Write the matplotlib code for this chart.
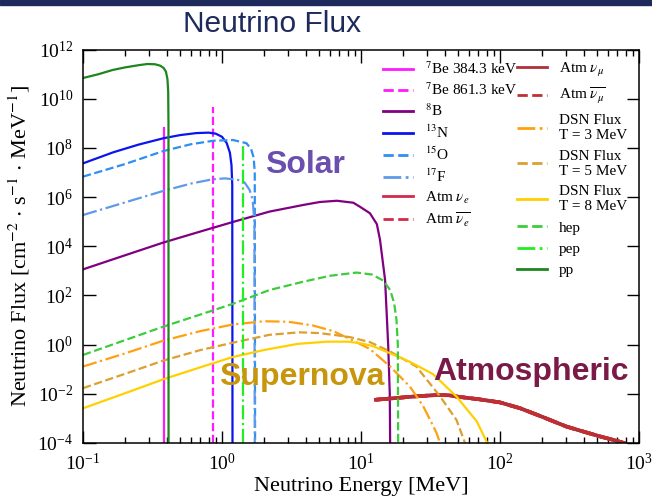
import numpy as np
import matplotlib.pyplot as plt
from matplotlib.patches import Rectangle
from matplotlib.ticker import LogLocator, NullFormatter, FixedLocator, NullLocator

plt.rcParams['font.family'] = ['Liberation Serif', 'DejaVu Serif']
plt.rcParams['mathtext.fontset'] = 'stix'

# energies in MeV, flux given as log10 [cm^-2 s^-1 MeV^-1]
pp_E = [0.1, 0.13, 0.164, 0.2, 0.25, 0.29, 0.33, 0.36, 0.38, 0.395, 0.405, 0.41, 0.412, 0.4125]
pp_log = [10.84, 11.0, 11.17, 11.27, 11.36, 11.41, 11.40, 11.34, 11.25, 11.10, 10.8, 10.3, 9.0, -4]

n13_E = [0.1, 0.165, 0.25, 0.378, 0.5, 0.65, 0.8, 0.9, 1.0, 1.08, 1.14, 1.17, 1.185, 1.19]
n13_log = [7.37, 7.82, 8.13, 8.39, 8.52, 8.60, 8.62, 8.58, 8.45, 8.2, 7.8, 7.3, 6.5, -4]

o15_E = [0.1, 0.2, 0.378, 0.6, 0.866, 1.2, 1.5, 1.62, 1.69, 1.72, 1.73]
o15_log = [6.83, 7.34, 7.87, 8.15, 8.29, 8.32, 8.19, 7.95, 7.6, 7.0, -4]

f17_E = [0.1, 0.2, 0.378, 0.6, 0.85, 1.05, 1.3, 1.45, 1.58, 1.66, 1.71, 1.72]
f17_log = [5.27, 5.78, 6.25, 6.55, 6.72, 6.76, 6.70, 6.6, 6.29, 5.9, 5.0, -4]

b8_E = [0.1, 0.2, 0.378, 0.7, 1.186, 2.2, 3.85, 5.07, 6.7, 8.8, 9.8, 11.6, 13.0, 13.7, 14.9, 15.7, 16.1, 16.2]
b8_log = [3.06, 3.63, 4.15, 4.6, 4.98, 5.41, 5.68, 5.80, 5.85, 5.77, 5.61, 5.34, 4.9, 4.26, 2.63, -0.08, -2, -4]

hep_E = [0.1, 0.378, 1.186, 2.2, 3.85, 6.0, 9.3, 12.0, 14.5, 16.2, 17.3, 18.0, 18.4, 18.5]
hep_log = [-0.42, 0.73, 1.65, 2.22, 2.56, 2.80, 2.93, 2.85, 2.6, 2.22, 1.7, 1.0, 0.0, -4]

dsn3_E = [0.1, 0.2, 0.378, 0.7, 1.2, 2.0, 3.0, 4.5, 6.3, 8.4, 11.6, 16.2, 22.5, 28, 31.4, 35, 37]
dsn3_log = [-0.89, -0.36, 0.16, 0.55, 0.82, 0.95, 0.93, 0.78, 0.55, 0.22, -0.18, -0.89, -1.71, -2.5, -3.06, -3.6, -4.0]

dsn5_E = [0.1, 0.2, 0.378, 0.7, 1.2, 2.2, 3.6, 5.0, 6.7, 8.4, 11.6, 16.2, 25, 37, 48.6, 56]
dsn5_log = [-1.77, -1.19, -0.65, -0.22, 0.08, 0.40, 0.50, 0.47, 0.38, 0.30, 0.10, -0.28, -0.89, -2.1, -3.06, -4.0]

dsn8_E = [0.1, 0.2, 0.378, 0.7, 1.186, 2.0, 3.5, 5.7, 8.0, 9.8, 12, 16.2, 22.5, 33, 48.6, 68, 81]
dsn8_log = [-2.59, -1.98, -1.41, -0.92, -0.51, -0.22, 0.03, 0.12, 0.12, 0.06, -0.05, -0.35, -0.70, -1.2, -2.11, -3.12, -4.0]

atm_E = [12.8, 18, 25, 35, 43, 50, 70, 100, 140, 200, 300, 400, 530, 700, 780]
atm_log = [-2.24, -2.17, -2.10, -2.05, -2.06, -2.12, -2.22, -2.35, -2.59, -2.93, -3.33, -3.54, -3.74, -3.92, -4.0]

# mono-energetic lines: energy, log10 of top end
be7a_E, be7a_top = 0.3843, 8.82
be7b_E, be7b_top = 0.8613, 9.67
pep_E, pep_top = 1.42, 8.19
y_floor = -4

fig = plt.figure(figsize=(6.52, 5.0), dpi=100)
fig.patches.append(Rectangle((0, 0.99), 1, 0.01, transform=fig.transFigure,
                             color='#1f2a5c', zorder=0))
fig.text(0.417, 0.952, 'Neutrino Flux', ha='center', va='center',
         fontsize=21.5, color='#1f2a5c', family='Liberation Sans')

ax = fig.add_axes([0.1273, 0.114, 0.8528, 0.787])

def p(E, lg, **kw):
    return ax.plot(E, np.power(10.0, lg), **kw)[0]

lw = 1.6
h_be7a = p([be7a_E, be7a_E], [y_floor, be7a_top], color='#ff1aff', lw=lw)
h_be7b = p([be7b_E, be7b_E], [y_floor, be7b_top], color='#ff1aff', lw=lw, ls='--')
h_b8 = p(b8_E, b8_log, color='#800080', lw=lw)
h_n13 = p(n13_E, n13_log, color='#0a14f0', lw=lw)
h_o15 = p(o15_E, o15_log, color='#2e8ff0', lw=lw, ls='--')
h_f17 = p(f17_E, f17_log, color='#5f9ae8', lw=lw, ls='-.')
h_atme = p(atm_E, atm_log, color='#d42a4a', lw=2.6)
h_atmeb = p(atm_E, atm_log, color='#d42a4a', lw=2.6, ls='--')
h_atmm = p(atm_E, atm_log, color='#b0303a', lw=2.6)
h_atmmb = p(atm_E, atm_log, color='#c03030', lw=2.6, ls='--')
h_dsn3 = p(dsn3_E, dsn3_log, color='#ffa010', lw=lw, ls='-.')
h_dsn5 = p(dsn5_E, dsn5_log, color='#dba030', lw=lw, ls='--')
h_dsn8 = p(dsn8_E, dsn8_log, color='#ffd000', lw=lw)
h_hep = p(hep_E, hep_log, color='#3ccc3c', lw=lw, ls='--')
h_pep = p([pep_E, pep_E], [y_floor, pep_top], color='#22ee22', lw=lw, ls='-.')
h_pp = p(pp_E, pp_log, color='#1e861e', lw=lw)

ax.set_xscale('log')
ax.set_yscale('log')
ax.set_xlim(0.1, 1000)
ax.set_ylim(1e-4, 1e12)
ax.yaxis.set_major_locator(FixedLocator([10.0 ** k for k in range(-4, 13, 2)]))
ax.yaxis.set_minor_locator(NullLocator())
ax.xaxis.set_minor_locator(LogLocator(base=10, subs=np.arange(2, 10)))
ax.xaxis.set_minor_formatter(NullFormatter())
ax.tick_params(which='both', direction='in', top=True, right=True, labelsize=14, width=1)
ax.tick_params(which='major', length=9, pad=7)
ax.tick_params(which='minor', length=4.5)
for s in ax.spines.values():
    s.set_linewidth(1.1)

ax.set_xlabel('Neutrino Energy [MeV]', fontsize=16, labelpad=2)
ax.set_ylabel('Neutrino Flux [cm$^{-2}$ $\\cdot$ s$^{-1}$ $\\cdot$ MeV$^{-1}$]', fontsize=16, labelpad=4)

left_handles = [h_be7a, h_be7b, h_b8, h_n13, h_o15, h_f17, h_atme, h_atmeb]
left_labels = ['$^{7}$Be 384.3 keV', '$^{7}$Be 861.3 keV', '$^{8}$B', '$^{13}$N',
               '$^{15}$O', '$^{17}$F', 'Atm $\\nu_e$', 'Atm $\\overline{\\nu_e}$']
right_handles = [h_atmm, h_atmmb, h_dsn3, h_dsn5, h_dsn8, h_hep, h_pep, h_pp]
right_labels = ['Atm $\\nu_\\mu$', 'Atm $\\overline{\\nu_\\mu}$',
                'DSN Flux\nT = 3 MeV', 'DSN Flux\nT = 5 MeV', 'DSN Flux\nT = 8 MeV',
                'hep', 'pep', 'pp']

common = dict(loc='upper left', frameon=False, fontsize=11, handlelength=2.0,
              handletextpad=0.75, borderpad=0, borderaxespad=0)
leg1 = ax.legend(left_handles, left_labels, bbox_to_anchor=(0.539, 0.972),
                 labelspacing=0.3, **common)
ax.add_artist(leg1)
leg2 = ax.legend(right_handles, right_labels, bbox_to_anchor=(0.78, 0.972),
                 labelspacing=0.5, **common)
for lg in (leg1, leg2):
    for t in lg.get_texts():
        t.set_linespacing(1.2)
    for h in lg.legend_handles:
        h.set_linewidth(2.0)

ax.text(0.399, 0.706, 'Solar', transform=ax.transAxes, ha='center', va='center',
        fontsize=23, fontweight='bold', color='#6a4fae', family='Liberation Sans')
ax.text(0.393, 0.168, 'Supernova', transform=ax.transAxes, ha='center', va='center',
        fontsize=23, fontweight='bold', color='#c8960c', family='Liberation Sans')
ax.text(0.805, 0.18, 'Atmospheric', transform=ax.transAxes, ha='center', va='center',
        fontsize=23, fontweight='bold', color='#7a1b47', family='Liberation Sans')

fig.savefig('out.png', dpi=100)
